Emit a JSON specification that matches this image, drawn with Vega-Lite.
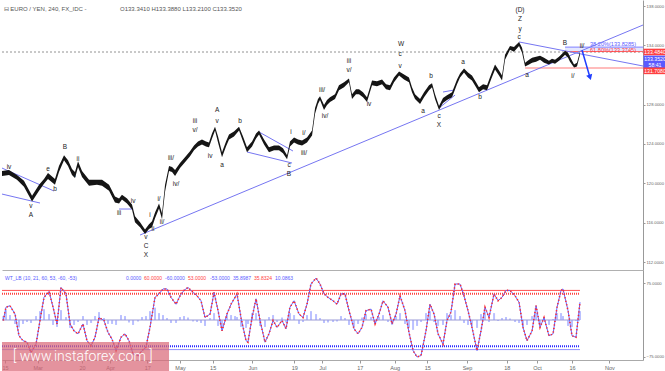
{
  "$schema": "https://vega.github.io/schema/vega-lite/v6.json",
  "padding": 0,
  "spacing": 0,
  "bounds": "flush",
  "background": "white",
  "config": {"view": {"stroke": null}, "font": "Liberation Sans", "text": {"font": "Liberation Sans"}, "axis": {"labelOverlap": false}},
  "datasets": {
    "price": [
      {"d":"2017-02-13T17:00","lo":120.75,"hi":121.25},{"d":"2017-02-16T17:00","lo":120.85,"hi":121.35},{"d":"2017-02-20T03:00","lo":120.35,"hi":120.85},{"d":"2017-02-23T03:00","lo":119.65,"hi":120.25},{"d":"2017-02-26T14:00","lo":118.15,"hi":118.75},{"d":"2017-03-01T14:00","lo":119.25,"hi":119.85},{"d":"2017-03-03T17:00","lo":119.95,"hi":120.45},{"d":"2017-03-05T10:00","lo":120.45,"hi":121.05},{"d":"2017-03-08T10:00","lo":119.85,"hi":120.45},{"d":"2017-03-10T03:00","lo":121.15,"hi":121.75},{"d":"2017-03-12T07:00","lo":122.35,"hi":122.85},{"d":"2017-03-14T00:00","lo":121.75,"hi":122.35},{"d":"2017-03-15T17:00","lo":120.85,"hi":121.45},{"d":"2017-03-17T00:00","lo":120.55,"hi":121.15},{"d":"2017-03-18T07:00","lo":121.65,"hi":122.25},{"d":"2017-03-20T00:00","lo":120.65,"hi":121.25},{"d":"2017-03-23T00:00","lo":119.75,"hi":120.35},{"d":"2017-03-26T10:00","lo":119.85,"hi":120.35},{"d":"2017-03-28T14:00","lo":119.75,"hi":120.35},{"d":"2017-03-31T14:00","lo":119.25,"hi":119.85},{"d":"2017-04-03T03:00","lo":118.05,"hi":118.65},{"d":"2017-04-04T21:00","lo":117.95,"hi":118.45},{"d":"2017-04-06T03:00","lo":118.35,"hi":118.85},{"d":"2017-04-08T07:00","lo":117.95,"hi":118.45},{"d":"2017-04-10T10:00","lo":117.35,"hi":117.85},{"d":"2017-04-11T17:00","lo":116.05,"hi":116.65},{"d":"2017-04-13T21:00","lo":115.55,"hi":116.05},{"d":"2017-04-16T00:00","lo":114.85,"hi":115.3},{"d":"2017-04-17T17:00","lo":115.35,"hi":115.85},{"d":"2017-04-19T00:00","lo":115.55,"hi":116.15},{"d":"2017-04-20T07:00","lo":116.45,"hi":117.05},{"d":"2017-04-22T00:00","lo":117.45,"hi":117.95},{"d":"2017-04-23T07:00","lo":116.35,"hi":116.95},{"d":"2017-04-24T14:00","lo":119.15,"hi":119.85},{"d":"2017-04-26T07:00","lo":121.25,"hi":121.75},{"d":"2017-04-27T14:00","lo":121.15,"hi":121.65},{"d":"2017-04-28T21:00","lo":120.75,"hi":121.35},{"d":"2017-05-01T00:00","lo":121.55,"hi":122.05},{"d":"2017-05-03T03:00","lo":122.15,"hi":122.65},{"d":"2017-05-05T07:00","lo":122.75,"hi":123.25},{"d":"2017-05-07T00:00","lo":123.35,"hi":123.85},{"d":"2017-05-08T17:00","lo":123.75,"hi":124.25},{"d":"2017-05-10T10:00","lo":123.95,"hi":124.45},{"d":"2017-05-12T03:00","lo":123.75,"hi":124.25},{"d":"2017-05-13T10:00","lo":123.65,"hi":124.15},{"d":"2017-05-14T17:00","lo":124.55,"hi":125.05},{"d":"2017-05-16T00:00","lo":125.35,"hi":125.75},{"d":"2017-05-17T07:00","lo":124.15,"hi":124.75},{"d":"2017-05-19T00:00","lo":122.65,"hi":123.15},{"d":"2017-05-20T17:00","lo":123.75,"hi":124.25},{"d":"2017-05-22T00:00","lo":124.45,"hi":124.95},{"d":"2017-05-24T03:00","lo":124.75,"hi":125.25},{"d":"2017-05-26T07:00","lo":125.35,"hi":125.75},{"d":"2017-05-28T00:00","lo":124.25,"hi":124.75},{"d":"2017-05-29T17:00","lo":123.15,"hi":123.65},{"d":"2017-05-31T21:00","lo":123.75,"hi":124.25},{"d":"2017-06-02T14:00","lo":124.55,"hi":125.05},{"d":"2017-06-03T21:00","lo":124.95,"hi":125.35},{"d":"2017-06-06T00:00","lo":123.95,"hi":124.45},{"d":"2017-06-08T03:00","lo":123.15,"hi":123.65},{"d":"2017-06-10T07:00","lo":123.35,"hi":123.85},{"d":"2017-06-12T10:00","lo":123.35,"hi":123.85},{"d":"2017-06-14T03:00","lo":123.05,"hi":123.55},{"d":"2017-06-15T21:00","lo":122.45,"hi":122.85},{"d":"2017-06-17T03:00","lo":123.75,"hi":124.25},{"d":"2017-06-18T21:00","lo":124.15,"hi":124.65},{"d":"2017-06-20T14:00","lo":123.95,"hi":124.45},{"d":"2017-06-22T07:00","lo":123.85,"hi":124.35},{"d":"2017-06-24T10:00","lo":124.15,"hi":124.65},{"d":"2017-06-26T14:00","lo":124.85,"hi":125.35},{"d":"2017-06-27T21:00","lo":127.05,"hi":127.65},{"d":"2017-06-29T03:00","lo":128.05,"hi":128.55},{"d":"2017-06-30T00:00","lo":128.45,"hi":128.85},{"d":"2017-07-01T17:00","lo":127.45,"hi":127.95},{"d":"2017-07-03T00:00","lo":127.95,"hi":128.45},{"d":"2017-07-04T07:00","lo":128.25,"hi":128.75},{"d":"2017-07-06T10:00","lo":128.55,"hi":129.05},{"d":"2017-07-08T03:00","lo":129.45,"hi":129.95},{"d":"2017-07-10T07:00","lo":129.75,"hi":130.25},{"d":"2017-07-12T10:00","lo":130.25,"hi":130.65},{"d":"2017-07-13T17:00","lo":128.55,"hi":129.05},{"d":"2017-07-15T10:00","lo":129.05,"hi":129.55},{"d":"2017-07-16T17:00","lo":129.05,"hi":129.55},{"d":"2017-07-18T10:00","lo":128.75,"hi":129.25},{"d":"2017-07-20T03:00","lo":128.25,"hi":128.75},{"d":"2017-07-22T07:00","lo":129.95,"hi":130.45},{"d":"2017-07-24T10:00","lo":129.85,"hi":130.35},{"d":"2017-07-26T14:00","lo":130.05,"hi":130.55},{"d":"2017-07-28T07:00","lo":129.55,"hi":130.05},{"d":"2017-07-30T00:00","lo":129.45,"hi":129.95},{"d":"2017-07-31T17:00","lo":130.25,"hi":130.75},{"d":"2017-08-02T21:00","lo":130.95,"hi":131.35},{"d":"2017-08-05T00:00","lo":130.55,"hi":131.05},{"d":"2017-08-07T03:00","lo":130.25,"hi":130.75},{"d":"2017-08-08T10:00","lo":129.25,"hi":129.75},{"d":"2017-08-09T17:00","lo":128.55,"hi":129.05},{"d":"2017-08-11T21:00","lo":128.05,"hi":128.55},{"d":"2017-08-13T14:00","lo":128.75,"hi":129.25},{"d":"2017-08-15T17:00","lo":129.45,"hi":129.95},{"d":"2017-08-17T00:00","lo":129.75,"hi":130.15},{"d":"2017-08-18T07:00","lo":128.55,"hi":129.05},{"d":"2017-08-20T00:00","lo":127.45,"hi":127.85},{"d":"2017-08-21T17:00","lo":128.15,"hi":128.65},{"d":"2017-08-23T10:00","lo":128.45,"hi":128.95},{"d":"2017-08-25T14:00","lo":128.75,"hi":129.25},{"d":"2017-08-27T17:00","lo":130.05,"hi":130.55},{"d":"2017-08-29T00:00","lo":130.75,"hi":131.15},{"d":"2017-08-30T17:00","lo":131.25,"hi":131.65},{"d":"2017-09-01T10:00","lo":130.75,"hi":131.25},{"d":"2017-09-03T03:00","lo":130.45,"hi":130.95},{"d":"2017-09-04T21:00","lo":129.75,"hi":130.25},{"d":"2017-09-06T03:00","lo":129.25,"hi":129.75},{"d":"2017-09-07T21:00","lo":129.55,"hi":130.05},{"d":"2017-09-09T14:00","lo":129.45,"hi":129.95},{"d":"2017-09-11T07:00","lo":130.55,"hi":131.05},{"d":"2017-09-13T00:00","lo":131.55,"hi":132.05},{"d":"2017-09-14T17:00","lo":130.95,"hi":131.45},{"d":"2017-09-16T00:00","lo":130.45,"hi":130.95},{"d":"2017-09-17T07:00","lo":132.55,"hi":133.05},{"d":"2017-09-19T10:00","lo":133.55,"hi":133.95},{"d":"2017-09-21T03:00","lo":133.35,"hi":133.85},{"d":"2017-09-23T07:00","lo":133.95,"hi":134.35},{"d":"2017-09-24T14:00","lo":133.25,"hi":133.75},{"d":"2017-09-25T21:00","lo":131.85,"hi":132.25},{"d":"2017-09-27T14:00","lo":132.05,"hi":132.55},{"d":"2017-09-28T21:00","lo":132.25,"hi":132.75},{"d":"2017-09-30T14:00","lo":132.35,"hi":132.85},{"d":"2017-10-02T07:00","lo":132.55,"hi":132.95},{"d":"2017-10-04T00:00","lo":132.25,"hi":132.75},{"d":"2017-10-06T03:00","lo":132.05,"hi":132.45},{"d":"2017-10-07T10:00","lo":132.25,"hi":132.65},{"d":"2017-10-08T17:00","lo":132.15,"hi":132.55},{"d":"2017-10-10T10:00","lo":132.45,"hi":132.85},{"d":"2017-10-11T17:00","lo":132.75,"hi":133.15},{"d":"2017-10-13T00:00","lo":133.05,"hi":133.45},{"d":"2017-10-14T07:00","lo":132.75,"hi":133.25},{"d":"2017-10-15T03:00","lo":132.35,"hi":132.85},{"d":"2017-10-16T21:00","lo":131.75,"hi":132.05},{"d":"2017-10-18T03:00","lo":131.85,"hi":132.25},{"d":"2017-10-19T10:00","lo":133.05,"hi":133.35}
    ],
    "seg": [
      {"id":"t1","d":"2017-04-13T21:00","p":114.75},{"id":"t1","d":"2017-11-15T10:00","p":136.07},
      {"id":"t2","d":"2017-09-23T07:00","p":134.35},{"id":"t2","d":"2017-11-15T10:00","p":131.91},
      {"id":"t3","d":"2017-02-13T17:00","p":121.55},{"id":"t3","d":"2017-03-08T00:00","p":119.22},
      {"id":"t4","d":"2017-02-13T17:00","p":118.91},{"id":"t4","d":"2017-03-02T00:00","p":118.0},
      {"id":"t5","d":"2017-04-04T21:00","p":117.39},{"id":"t5","d":"2017-04-10T21:00","p":117.39},
      {"id":"t6","d":"2017-04-05T17:00","p":118.71},{"id":"t6","d":"2017-04-10T21:00","p":117.39},
      {"id":"t7","d":"2017-06-03T21:00","p":125.21},{"id":"t7","d":"2017-06-18T10:00","p":123.28},
      {"id":"t8","d":"2017-05-29T17:00","p":123.18},{"id":"t8","d":"2017-06-18T00:00","p":122.06},
      {"id":"t9","d":"2017-08-20T00:00","p":127.64},{"id":"t9","d":"2017-08-26T21:00","p":128.96},
      {"id":"t10","d":"2017-08-21T17:00","p":129.27},{"id":"t10","d":"2017-08-26T10:00","p":129.47}
    ],
    "waves": [
      {"t":"iv","d":"2017-02-16T17:00","p":121.65},{"t":"v","d":"2017-02-26T03:00","p":117.7},{"t":"A","d":"2017-02-26T03:00","p":116.78},{"t":"e","d":"2017-03-05T10:00","p":121.45},{"t":"b","d":"2017-03-08T10:00","p":119.42},{"t":"B","d":"2017-03-12T17:00","p":123.69},{"t":"ii","d":"2017-03-18T07:00","p":122.47},{"t":"i","d":"2017-03-17T00:00","p":120.84},{"t":"iii","d":"2017-04-04T21:00","p":116.98},{"t":"iv","d":"2017-04-10T21:00","p":118.2},{"t":"v","d":"2017-04-16T10:00","p":114.55},{"t":"C","d":"2017-04-16T10:00","p":113.63},{"t":"X","d":"2017-04-16T10:00","p":112.72},{"t":"ii","d":"2017-04-19T10:00","p":115.36},{"t":"i","d":"2017-04-18T03:00","p":116.78},{"t":"i/","d":"2017-04-22T00:00","p":118.41},{"t":"ii/","d":"2017-04-23T07:00","p":116.07},{"t":"iii/","d":"2017-04-27T03:00","p":122.57},{"t":"iv/","d":"2017-04-29T07:00","p":119.93},{"t":"iii","d":"2017-05-07T10:00","p":126.32},{"t":"v/","d":"2017-05-07T10:00","p":125.41},{"t":"iv","d":"2017-05-13T21:00","p":122.77},{"t":"A","d":"2017-05-16T21:00","p":127.44},{"t":"v","d":"2017-05-16T21:00","p":126.32},{"t":"a","d":"2017-05-19T00:00","p":121.86},{"t":"b","d":"2017-05-26T17:00","p":126.32},{"t":"c","d":"2017-06-16T17:00","p":121.86},{"t":"B","d":"2017-06-16T17:00","p":120.94},{"t":"i","d":"2017-06-17T14:00","p":125.21},{"t":"i/","d":"2017-06-23T03:00","p":125.11},{"t":"iii/","d":"2017-06-23T03:00","p":123.08},{"t":"iii/","d":"2017-06-30T21:00","p":129.47},{"t":"iv/","d":"2017-07-02T03:00","p":126.83},{"t":"iii","d":"2017-07-12T10:00","p":132.42},{"t":"v/","d":"2017-07-12T10:00","p":131.5},{"t":"iv","d":"2017-07-21T00:00","p":128.05},{"t":"W","d":"2017-08-03T17:00","p":134.14},{"t":"c","d":"2017-08-03T07:00","p":133.13},{"t":"v","d":"2017-08-03T07:00","p":131.91},{"t":"a","d":"2017-08-13T03:00","p":127.34},{"t":"b","d":"2017-08-16T14:00","p":130.89},{"t":"c","d":"2017-08-20T00:00","p":126.83},{"t":"X","d":"2017-08-20T00:00","p":125.92},{"t":"a","d":"2017-08-30T07:00","p":132.31},{"t":"b","d":"2017-09-06T14:00","p":128.76},{"t":"(D)","d":"2017-09-23T17:00","p":137.59},{"t":"Z","d":"2017-09-23T17:00","p":136.68},{"t":"y","d":"2017-09-23T17:00","p":135.66},{"t":"c","d":"2017-09-23T07:00","p":134.85},{"t":"a","d":"2017-09-26T17:00","p":131.0},{"t":"B","d":"2017-10-13T00:00","p":134.24},{"t":"ii/","d":"2017-10-20T07:00","p":133.94},{"t":"i/","d":"2017-10-16T10:00","p":130.89}
    ],
    "osc": [
      {"d":"2017-02-14T06:00","v":-1,"h":8},{"d":"2017-02-15T10:00","v":26,"h":20},{"d":"2017-02-17T03:00","v":29,"h":10},{"d":"2017-02-19T07:00","v":12,"h":-8},{"d":"2017-02-21T00:00","v":-32,"h":-15},{"d":"2017-02-22T17:00","v":-42,"h":-8},{"d":"2017-02-24T10:00","v":-45,"h":-4},{"d":"2017-02-26T03:00","v":-66,"h":-6},{"d":"2017-02-28T07:00","v":-49,"h":8},{"d":"2017-03-02T00:00","v":-1,"h":18},{"d":"2017-03-03T17:00","v":46,"h":22},{"d":"2017-03-05T21:00","v":58,"h":12},{"d":"2017-03-07T14:00","v":26,"h":-10},{"d":"2017-03-09T07:00","v":-8,"h":-14},{"d":"2017-03-11T00:00","v":66,"h":20},{"d":"2017-03-13T03:00","v":53,"h":6},{"d":"2017-03-14T21:00","v":-8,"h":-16},{"d":"2017-03-16T14:00","v":-22,"h":-10},{"d":"2017-03-18T07:00","v":-28,"h":-4},{"d":"2017-03-20T10:00","v":-8,"h":8},{"d":"2017-03-22T03:00","v":-42,"h":-10},{"d":"2017-03-23T21:00","v":-52,"h":-6},{"d":"2017-03-25T14:00","v":-35,"h":8},{"d":"2017-03-27T07:00","v":5,"h":16},{"d":"2017-03-29T10:00","v":-1,"h":4},{"d":"2017-03-31T03:00","v":-25,"h":-8},{"d":"2017-04-01T21:00","v":-39,"h":-8},{"d":"2017-04-03T14:00","v":-62,"h":-10},{"d":"2017-04-05T17:00","v":-35,"h":10},{"d":"2017-04-07T10:00","v":-28,"h":8},{"d":"2017-04-09T03:00","v":-42,"h":-5},{"d":"2017-04-10T21:00","v":-69,"h":-10},{"d":"2017-04-13T00:00","v":-72,"h":-3},{"d":"2017-04-14T17:00","v":-62,"h":6},{"d":"2017-04-16T10:00","v":-55,"h":8},{"d":"2017-04-18T03:00","v":-15,"h":18},{"d":"2017-04-20T07:00","v":46,"h":25},{"d":"2017-04-22T00:00","v":53,"h":14},{"d":"2017-04-23T17:00","v":63,"h":10},{"d":"2017-04-25T10:00","v":63,"h":4},{"d":"2017-04-27T03:00","v":46,"h":-6},{"d":"2017-04-29T07:00","v":32,"h":-6},{"d":"2017-05-01T00:00","v":49,"h":6},{"d":"2017-05-02T17:00","v":60,"h":8},{"d":"2017-05-04T10:00","v":66,"h":5},{"d":"2017-05-06T14:00","v":56,"h":-3},{"d":"2017-05-08T07:00","v":49,"h":-4},{"d":"2017-05-10T00:00","v":39,"h":-6},{"d":"2017-05-11T17:00","v":5,"h":-12},{"d":"2017-05-13T21:00","v":12,"h":4},{"d":"2017-05-15T14:00","v":56,"h":14},{"d":"2017-05-17T07:00","v":19,"h":-12},{"d":"2017-05-19T00:00","v":-22,"h":-14},{"d":"2017-05-21T03:00","v":12,"h":10},{"d":"2017-05-22T21:00","v":32,"h":10},{"d":"2017-05-24T14:00","v":46,"h":8},{"d":"2017-05-25T10:00","v":53,"h":6},{"d":"2017-05-27T03:00","v":5,"h":-14},{"d":"2017-05-29T07:00","v":-42,"h":-16},{"d":"2017-05-30T03:00","v":-45,"h":-8},{"d":"2017-05-31T21:00","v":5,"h":14},{"d":"2017-06-02T14:00","v":43,"h":14},{"d":"2017-06-04T07:00","v":-1,"h":-12},{"d":"2017-06-06T10:00","v":-45,"h":-14},{"d":"2017-06-08T03:00","v":-28,"h":6},{"d":"2017-06-09T21:00","v":-1,"h":10},{"d":"2017-06-11T14:00","v":-15,"h":-4},{"d":"2017-06-13T17:00","v":-1,"h":5},{"d":"2017-06-15T10:00","v":-18,"h":-5},{"d":"2017-06-17T03:00","v":26,"h":14},{"d":"2017-06-18T21:00","v":39,"h":10},{"d":"2017-06-21T00:00","v":12,"h":-8},{"d":"2017-06-22T17:00","v":5,"h":-4},{"d":"2017-06-24T10:00","v":32,"h":10},{"d":"2017-06-26T03:00","v":73,"h":18},{"d":"2017-06-28T07:00","v":85,"h":12},{"d":"2017-06-30T00:00","v":73,"h":4},{"d":"2017-07-01T17:00","v":53,"h":-6},{"d":"2017-07-03T10:00","v":46,"h":-5},{"d":"2017-07-05T14:00","v":39,"h":-4},{"d":"2017-07-07T07:00","v":32,"h":-3},{"d":"2017-07-09T00:00","v":53,"h":8},{"d":"2017-07-10T17:00","v":53,"h":4},{"d":"2017-07-12T10:00","v":19,"h":-10},{"d":"2017-07-14T14:00","v":-18,"h":-14},{"d":"2017-07-16T07:00","v":-28,"h":-8},{"d":"2017-07-18T00:00","v":-15,"h":5},{"d":"2017-07-19T17:00","v":19,"h":12},{"d":"2017-07-21T21:00","v":22,"h":6},{"d":"2017-07-23T14:00","v":-8,"h":-8},{"d":"2017-07-25T07:00","v":12,"h":6},{"d":"2017-07-27T00:00","v":39,"h":10},{"d":"2017-07-29T03:00","v":26,"h":-4},{"d":"2017-07-30T21:00","v":-8,"h":-10},{"d":"2017-08-01T14:00","v":12,"h":8},{"d":"2017-08-03T07:00","v":49,"h":14},{"d":"2017-08-05T10:00","v":19,"h":-8},{"d":"2017-08-07T03:00","v":-25,"h":-16},{"d":"2017-08-08T21:00","v":-62,"h":-20},{"d":"2017-08-10T14:00","v":-75,"h":-12},{"d":"2017-08-12T07:00","v":-72,"h":-4},{"d":"2017-08-14T10:00","v":-22,"h":14},{"d":"2017-08-16T03:00","v":32,"h":18},{"d":"2017-08-17T21:00","v":12,"h":-4},{"d":"2017-08-19T14:00","v":-28,"h":-12},{"d":"2017-08-21T17:00","v":-49,"h":-10},{"d":"2017-08-23T10:00","v":-1,"h":14},{"d":"2017-08-25T03:00","v":16,"h":10},{"d":"2017-08-26T21:00","v":73,"h":20},{"d":"2017-08-29T00:00","v":73,"h":8},{"d":"2017-08-30T17:00","v":49,"h":-6},{"d":"2017-09-01T10:00","v":19,"h":-10},{"d":"2017-09-03T03:00","v":-15,"h":-12},{"d":"2017-09-05T07:00","v":-62,"h":-16},{"d":"2017-09-07T00:00","v":-22,"h":12},{"d":"2017-09-08T17:00","v":26,"h":16},{"d":"2017-09-10T10:00","v":5,"h":-4},{"d":"2017-09-12T14:00","v":53,"h":14},{"d":"2017-09-14T07:00","v":39,"h":-2},{"d":"2017-09-16T00:00","v":46,"h":4},{"d":"2017-09-17T17:00","v":60,"h":6},{"d":"2017-09-19T10:00","v":60,"h":3},{"d":"2017-09-21T14:00","v":49,"h":-4},{"d":"2017-09-23T07:00","v":36,"h":-6},{"d":"2017-09-25T00:00","v":-15,"h":-14},{"d":"2017-09-26T17:00","v":-42,"h":-10},{"d":"2017-09-28T21:00","v":-22,"h":8},{"d":"2017-09-30T14:00","v":29,"h":14},{"d":"2017-10-02T07:00","v":-15,"h":-10},{"d":"2017-10-04T00:00","v":5,"h":6},{"d":"2017-10-06T03:00","v":-32,"h":-10},{"d":"2017-10-07T21:00","v":-28,"h":2},{"d":"2017-10-09T14:00","v":26,"h":14},{"d":"2017-10-11T07:00","v":60,"h":14},{"d":"2017-10-12T03:00","v":63,"h":8},{"d":"2017-10-14T07:00","v":19,"h":-12},{"d":"2017-10-16T00:00","v":-32,"h":-14},{"d":"2017-10-17T17:00","v":-35,"h":-2},{"d":"2017-10-19T10:00","v":36,"h":18}
    ]
  },
  "vconcat": [
    {
      "width": 641,
      "height": 270,
      "layer": [
        {
          "data": {"values": [{"d1":"2017-10-13T00:00","d2":"2017-11-15T10:00","lo":133.3745,"hi":133.8285}]},
          "mark": {"type": "rect", "color": "#c9d0ff", "opacity": 0.5},
          "encoding": {
            "x": {"field": "d1", "type": "temporal",
                  "scale": {"domain": [{"year":2017,"month":2,"date":13,"hours":17},{"year":2017,"month":11,"date":15,"hours":10}], "nice": false},
                  "axis": {"labels": false, "ticks": false, "grid": false, "domain": true, "domainColor": "#b0b0b0", "title": null}},
            "x2": {"field": "d2"},
            "y": {"field": "lo", "type": "quantitative",
                  "scale": {"domain": [111.2, 138.61], "nice": false, "zero": false},
                  "axis": {"orient": "right", "title": null, "grid": false, "values": [112,114,116,118,120,122,124,126,128,130,134,136,138], "format": ".4f", "labelFontSize": 4.2, "labelColor": "#666", "tickSize": 2, "tickColor": "#999", "domainColor": "#999", "labelPadding": 1}},
            "y2": {"field": "hi"}
          }
        },
        {
          "data": {"values": [{"d1":"2017-02-13T17:00","d2":"2017-11-15T10:00","p":133.33}]},
          "mark": {"type": "rule", "color": "#777", "strokeDash": [2, 2], "strokeWidth": 0.8},
          "encoding": {"x": {"field": "d1", "type": "temporal"}, "x2": {"field": "d2"}, "y": {"field": "p", "type": "quantitative"}}
        },
        {
          "data": {"values": [{"d1":"2017-09-25T21:00","d2":"2017-11-15T10:00","p":131.708}]},
          "mark": {"type": "rule", "color": "#ff7a7a", "strokeWidth": 1.2},
          "encoding": {"x": {"field": "d1", "type": "temporal"}, "x2": {"field": "d2"}, "y": {"field": "p", "type": "quantitative"}}
        },
        {
          "data": {"values": [{"d1":"2017-10-13T00:00","d2":"2017-11-15T10:00","p":133.8285}]},
          "mark": {"type": "rule", "color": "#8080ff", "strokeWidth": 1},
          "encoding": {"x": {"field": "d1", "type": "temporal"}, "x2": {"field": "d2"}, "y": {"field": "p", "type": "quantitative"}}
        },
        {
          "data": {"values": [{"d1":"2017-10-13T00:00","d2":"2017-11-15T10:00","p":133.3745}]},
          "mark": {"type": "rule", "color": "#ff6060", "strokeWidth": 1},
          "encoding": {"x": {"field": "d1", "type": "temporal"}, "x2": {"field": "d2"}, "y": {"field": "p", "type": "quantitative"}}
        },
        {
          "data": {"name": "seg"},
          "mark": {"type": "line", "color": "#7676f2", "strokeWidth": 1},
          "encoding": {"x": {"field": "d", "type": "temporal"}, "y": {"field": "p", "type": "quantitative"}, "detail": {"field": "id"}}
        },
        {
          "data": {"name": "price"},
          "mark": {"type": "area", "color": "#151515", "interpolate": "linear"},
          "encoding": {"x": {"field": "d", "type": "temporal"}, "y": {"field": "lo", "type": "quantitative"}, "y2": {"field": "hi"}}
        },
        {
          "data": {"name": "waves"},
          "mark": {"type": "text", "fontSize": 6.5, "color": "#222", "baseline": "middle", "align": "center"},
          "encoding": {"x": {"field": "d", "type": "temporal"}, "y": {"field": "p", "type": "quantitative"}, "text": {"field": "t"}}
        },
        {
          "data": {"values": [{"t":"38.20%(133.8285)","d":"2017-10-23T17:00","p":134.14,"k":"b"},{"t":"61.80%(133.3745)","d":"2017-10-23T17:00","p":133.55,"k":"r"}]},
          "mark": {"type": "text", "fontSize": 5.6, "align": "left", "baseline": "middle"},
          "encoding": {"x": {"field": "d", "type": "temporal"}, "y": {"field": "p", "type": "quantitative"}, "text": {"field": "t"},
                       "color": {"field": "k", "type": "nominal", "scale": {"domain": ["b","r"], "range": ["#5a5aff","#ff4040"]}, "legend": null}}
        },
        {
          "data": {"values": [{"d":"2017-10-20T07:00","p":133.5},{"d":"2017-10-23T17:00","p":130.75}]},
          "mark": {"type": "line", "color": "#1f3dff", "strokeWidth": 1.5},
          "encoding": {"x": {"field": "d", "type": "temporal"}, "y": {"field": "p", "type": "quantitative"}}
        },
        {
          "data": {"values": [{"d":"2017-10-23T17:00","p":130.75}]},
          "mark": {"type": "point", "shape": "triangle-down", "filled": true, "color": "#1f3dff", "size": 40, "angle": 342, "opacity": 1},
          "encoding": {"x": {"field": "d", "type": "temporal"}, "y": {"field": "p", "type": "quantitative"}}
        },
        {
          "data": {"values": [{"t":"133.4840","p":133.33,"k":"r"},{"t":"133.3520","p":132.62,"k":"b"},{"t":"58:41","p":132.0,"k":"b"},{"t":"131.7080","p":131.42,"k":"r"}]},
          "mark": {"type": "point", "shape": "M-1,-0.29L1,-0.29L1,0.29L-1,0.29Z", "filled": true, "size": 529, "xOffset": 12, "opacity": 1},
          "encoding": {"x": {"datum": {"year":2017,"month":11,"date":15,"hours":10}}, "y": {"field": "p", "type": "quantitative"},
                       "color": {"field": "k", "type": "nominal", "scale": {"domain": ["r","b"], "range": ["#ff1a1a","#111111"]}, "legend": null}}
        },
        {
          "data": {"values": [{"t":"133.4840","p":133.33},{"t":"133.3520","p":132.62},{"t":"58:41","p":132.0},{"t":"131.7080","p":131.42}]},
          "mark": {"type": "text", "fontSize": 5.2, "color": "white", "align": "center", "baseline": "middle", "dx": 12},
          "encoding": {"x": {"datum": {"year":2017,"month":11,"date":15,"hours":10}}, "y": {"field": "p", "type": "quantitative"}, "text": {"field": "t"}}
        },
        {
          "data": {"values": [{"t":"⊟ EURO / YEN, 240, FX_IDC -","d":"2017-02-14T10:00"},{"t":"O133.3410  H133.3880  L133.2100  C133.3520","d":"2017-04-05T07:00"}]},
          "mark": {"type": "text", "fontSize": 6, "color": "#555", "align": "left", "baseline": "middle"},
          "encoding": {"x": {"field": "d", "type": "temporal"}, "y": {"datum": 137.7}, "text": {"field": "t"}}
        }
      ]
    },
    {
      "width": 641,
      "height": 90,
      "resolve": {"axis": {"x": "independent"}},
      "layer": [
        {
          "data": {"name": "osc"},
          "mark": {"type": "rule", "color": "#a9b0ff", "strokeWidth": 2, "opacity": 0.8},
          "encoding": {
            "x": {"field": "d", "type": "temporal",
                  "scale": {"domain": [{"year":2017,"month":2,"date":13,"hours":17},{"year":2017,"month":11,"date":15,"hours":10}], "nice": false},
                  "axis": {"orient": "bottom", "title": null, "grid": false, "values": [{"year":2017,"month":3,"date":1},{"year":2017,"month":4,"date":1},{"year":2017,"month":5,"date":1},{"year":2017,"month":6,"date":1},{"year":2017,"month":7,"date":1},{"year":2017,"month":8,"date":1},{"year":2017,"month":9,"date":1},{"year":2017,"month":10,"date":1},{"year":2017,"month":11,"date":1}],
                           "format": "%b", "labelFontSize": 5.5, "labelColor": "#666", "tickSize": 3, "tickColor": "#999", "domainColor": "#aaa", "labelPadding": 2, "labelOverlap": false, "labelFlush": false}},
            "y": {"field": "h", "type": "quantitative",
                  "scale": {"domain": [-81.1, 101.4], "nice": false, "zero": false},
                  "axis": {"orient": "right", "title": null, "grid": false, "values": [-75,-50,-25,0,25,50,75], "format": ".4f", "labelFontSize": 4.2, "labelColor": "#666", "tickSize": 2, "tickColor": "#999", "domainColor": "#999", "labelPadding": 1}},
            "y2": {"datum": 0}
          }
        },
        {
          "data": {"values": [{"d1":"2017-02-13T17:00","d2":"2017-10-19T10:00","v":0}]},
          "mark": {"type": "rule", "color": "#9a9ad6", "strokeWidth": 1},
          "encoding": {"x": {"field": "d1", "type": "temporal", "axis": null}, "x2": {"field": "d2"}, "y": {"field": "v", "type": "quantitative"}}
        },
        {
          "data": {"values": [{"d1":"2017-02-13T17:00","d2":"2017-10-19T10:00","v":60}]},
          "mark": {"type": "rule", "color": "#ff5050", "strokeWidth": 1},
          "encoding": {"x": {"field": "d1", "type": "temporal", "axis": null}, "x2": {"field": "d2"}, "y": {"field": "v", "type": "quantitative"}}
        },
        {
          "data": {"values": [{"d1":"2017-02-13T17:00","d2":"2017-10-19T10:00","v":53}]},
          "mark": {"type": "rule", "color": "#ff4040", "strokeWidth": 2, "strokeDash": [1, 1]},
          "encoding": {"x": {"field": "d1", "type": "temporal", "axis": null}, "x2": {"field": "d2"}, "y": {"field": "v", "type": "quantitative"}}
        },
        {
          "data": {"values": [{"d1":"2017-02-13T17:00","d2":"2017-10-19T10:00","v":-53}]},
          "mark": {"type": "rule", "color": "#2a2aff", "strokeWidth": 2, "strokeDash": [1, 1]},
          "encoding": {"x": {"field": "d1", "type": "temporal", "axis": null}, "x2": {"field": "d2"}, "y": {"field": "v", "type": "quantitative"}}
        },
        {
          "data": {"values": [{"d1":"2017-02-13T17:00","d2":"2017-10-19T10:00","v":-60}]},
          "mark": {"type": "rule", "color": "#9090ff", "strokeWidth": 1},
          "encoding": {"x": {"field": "d1", "type": "temporal", "axis": null}, "x2": {"field": "d2"}, "y": {"field": "v", "type": "quantitative"}}
        },
        {
          "data": {"name": "osc"},
          "mark": {"type": "line", "color": "#6464ff", "strokeWidth": 1},
          "encoding": {"x": {"field": "d", "type": "temporal",
                             "axis": {"orient": "bottom", "title": null, "grid": false, "domain": false, "values": [{"year":2017,"month":2,"date":15},{"year":2017,"month":3,"date":20},{"year":2017,"month":4,"date":17},{"year":2017,"month":5,"date":15},{"year":2017,"month":6,"date":19},{"year":2017,"month":7,"date":17},{"year":2017,"month":8,"date":15},{"year":2017,"month":9,"date":18},{"year":2017,"month":10,"date":16}],
                                      "format": "%d", "labelFontSize": 5.5, "labelColor": "#666", "tickSize": 3, "tickColor": "#999", "labelPadding": 2, "labelOverlap": false, "labelFlush": false}},
                       "y": {"field": "v", "type": "quantitative"}}
        },
        {
          "data": {"name": "osc"},
          "mark": {"type": "line", "color": "#ff2a2a", "strokeWidth": 1.6, "strokeDash": [1.2, 2.4]},
          "encoding": {"x": {"field": "d", "type": "temporal", "axis": null}, "y": {"field": "v", "type": "quantitative"}}
        },
        {
          "data": {"values": [
            {"t":"WT_LB (10, 21, 60, 53, -60, -53)","d":"2017-02-15T00:00","k":"g"},
            {"t":"0.0000","d":"2017-04-07T21:00","k":"g"},
            {"t":"60.0000","d":"2017-04-15T14:00","k":"r"},
            {"t":"-60.0000","d":"2017-04-24T14:00","k":"b"},
            {"t":"53.0000","d":"2017-05-04T10:00","k":"r"},
            {"t":"-53.0000","d":"2017-05-13T21:00","k":"b"},
            {"t":"35.8987","d":"2017-05-23T17:00","k":"b"},
            {"t":"35.8324","d":"2017-06-01T17:00","k":"r"},
            {"t":"10.0863","d":"2017-06-10T17:00","k":"b"}
          ]},
          "mark": {"type": "text", "fontSize": 5, "align": "left", "baseline": "middle"},
          "encoding": {"x": {"field": "d", "type": "temporal", "axis": null}, "y": {"datum": 85}, "text": {"field": "t"},
                       "color": {"field": "k", "type": "nominal", "scale": {"domain": ["g","r","b"], "range": ["#666666","#ff3030","#3030ff"]}, "legend": null}}
        },
        {
          "data": {"values": [{"d1":"2017-02-13T17:00","d2":"2017-04-26T07:00","lo":-103.5,"hi":-44.6}]},
          "mark": {"type": "rect", "color": "#d96a78", "opacity": 0.72},
          "encoding": {"x": {"field": "d1", "type": "temporal", "axis": null}, "x2": {"field": "d2"}, "y": {"field": "lo", "type": "quantitative"}, "y2": {"field": "hi"}}
        },
        {
          "data": {"values": [{"t":"[  www.instaforex.com  ]","d":"2017-02-18T10:00","v":-75}]},
          "mark": {"type": "text", "fontSize": 14, "font": "Roboto", "fontWeight": 300, "color": "white", "align": "left", "baseline": "middle"},
          "encoding": {"x": {"field": "d", "type": "temporal", "axis": null}, "y": {"field": "v", "type": "quantitative"}, "text": {"field": "t"}}
        }
      ]
    }
  ]
}
